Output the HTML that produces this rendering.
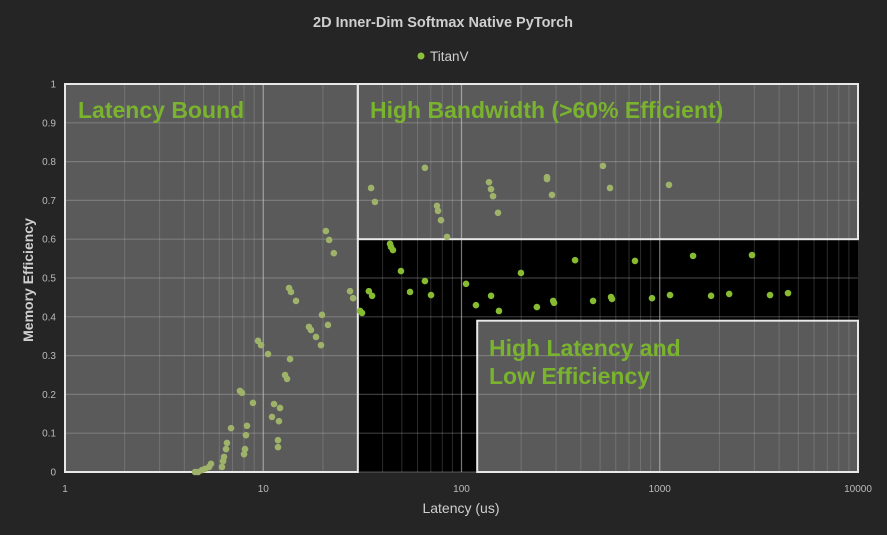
<!DOCTYPE html>
<html><head><meta charset="utf-8"><style>
html,body{margin:0;padding:0;background:#252525;}
svg{display:block;font-family:"Liberation Sans",sans-serif;}
</style></head><body>
<svg id="chart" width="887" height="535" xmlns="http://www.w3.org/2000/svg">
<rect width="887" height="535" fill="#252525"/>
<text x="443" y="27" text-anchor="middle" fill="#cfcfcf" font-size="14.5" font-weight="bold">2D Inner-Dim Softmax Native PyTorch</text>
<g><circle cx="421" cy="56" r="3.5" fill="#8cbf3a"/><text x="430" y="61" fill="#cfcfcf" font-size="13.5">TitanV</text></g>
<g id="plot"></g>
<text x="461" y="513" text-anchor="middle" fill="#cfcfcf" font-size="14">Latency (us)</text>
<text transform="translate(33,280) rotate(-90)" text-anchor="middle" fill="#cfcfcf" font-size="14" font-weight="bold">Memory Efficiency</text>
</svg>
<script>
const latency = [4.53,4.69,4.91,5.08,5.33,5.45,6.19,6.27,6.34,6.49,6.56,6.88,8.0,8.09,8.18,8.28,8.87,7.63,7.81,11.87,11.87,11.07,12.0,11.33,12.15,9.41,9.75,10.57,12.88,13.18,13.65,17.0,17.4,18.45,19.55,19.78,21.2,13.49,13.8,14.63,20.7,21.5,22.7,27.4,28.4,30.8,31.5,
 34.1,35.4,43.6,44.1,45.1,49.5,55.0,65.4,70.2,105.4,118.3,141,154.5,199.5,240,290,293,374,461,568,574,750,914,1127,1472,1815,2240,2920,3600,4435,
 35.0,36.6,65.4,75.2,76.1,78.8,84.5,137.6,140.9,144.2,152.8,270,270,286,517,561,1113];
const efficiency = [0.0,0.0,0.005,0.008,0.013,0.021,0.013,0.028,0.039,0.059,0.075,0.113,0.046,0.059,0.095,0.119,0.178,0.209,0.204,0.064,0.082,0.142,0.131,0.175,0.165,0.338,0.327,0.304,0.25,0.24,0.291,0.374,0.366,0.348,0.327,0.405,0.379,0.474,0.464,0.441,0.621,0.598,0.564,0.466,0.448,0.415,0.41,
 0.466,0.454,0.588,0.58,0.572,0.518,0.464,0.492,0.456,0.485,0.43,0.454,0.415,0.513,0.425,0.441,0.436,0.546,0.441,0.451,0.446,0.544,0.448,0.456,0.557,0.454,0.459,0.559,0.456,0.461,
 0.732,0.696,0.784,0.686,0.673,0.649,0.606,0.747,0.729,0.711,0.668,0.760,0.755,0.714,0.789,0.732,0.74];
const yTicks = [0,0.1,0.2,0.3,0.4,0.5,0.6,0.7,0.8,0.9,1];
const xTicks = [1,10,100,1000,10000];
const xMin=1,xMax=10000,L=65,R=858,T=84,B=472;
const NS="http://www.w3.org/2000/svg";
function sx(v){return L+(Math.log10(v)-Math.log10(xMin))/(Math.log10(xMax)-Math.log10(xMin))*(R-L);}
function sy(v){return B-v*(B-T);}
const plot=document.getElementById('plot');
function mk(tag,attrs,parent){const e=document.createElementNS(NS,tag);for(const k in attrs)e.setAttribute(k,attrs[k]);(parent||plot).appendChild(e);return e;}
mk('rect',{x:L,y:T,width:R-L,height:B-T,fill:'#000'});
const regions=[
 {name:'latency-bound-region',x0:1,x1:30,y0:0,y1:1},
 {name:'high-bandwidth-region',x0:30,x1:10000,y0:0.6,y1:1},
 {name:'high-latency-region',x0:120,x1:10000,y0:0,y1:0.39}];
regions.forEach(r=>{
 const e=mk('rect',{x:sx(r.x0),y:sy(r.y1),width:sx(r.x1)-sx(r.x0),height:sy(r.y0)-sy(r.y1),fill:'#5a5a5a'});
 
 
});
for(let d=0;d<4;d++){for(let m=1;m<10;m++){const v=Math.pow(10,d)*m;const x=sx(v);
 mk('line',{x1:x,x2:x,y1:T,y2:B,stroke:m===1?'rgba(220,220,220,0.55)':'rgba(200,200,200,0.22)','stroke-width':m===1?1.2:1});}}
yTicks.forEach(v=>{mk('line',{x1:L,x2:R,y1:sy(v),y2:sy(v),stroke:'rgba(200,200,200,0.3)','stroke-width':1.2});});
regions.forEach(r=>{mk('rect',{x:sx(r.x0),y:sy(r.y1),width:sx(r.x1)-sx(r.x0),height:sy(r.y0)-sy(r.y1),fill:'none',stroke:'#e8e8e8','stroke-width':2});});
const lab=[['Latency Bound',78,118],['High Bandwidth (>60% Efficient)',370,118],['High Latency and',489,356],['Low Efficiency',489,384]];
lab.forEach(l=>{const t=mk('text',{x:l[1],y:l[2],fill:'#7ab32e','font-size':23,'font-weight':'bold'});t.textContent=l[0];
 
 });
yTicks.forEach(v=>{const t=mk('text',{x:56,y:sy(v)+3.5,'text-anchor':'end',fill:'#bbb','font-size':10});t.textContent=String(v);
 
 });
xTicks.forEach(v=>{const t=mk('text',{x:sx(v),y:492,'text-anchor':'middle',fill:'#bbb','font-size':10});t.textContent=String(v);
 
 });
latency.forEach((v,i)=>{const e=efficiency[i];
 const inGray=(v<30)||(e>0.6)||(v>120&&e<0.39);
 const c=mk('circle',{cx:sx(v),cy:sy(e),r:3.3,fill:inGray?'#9eb26a':'#86bb32'});
 
 });
</script>
</body></html>
